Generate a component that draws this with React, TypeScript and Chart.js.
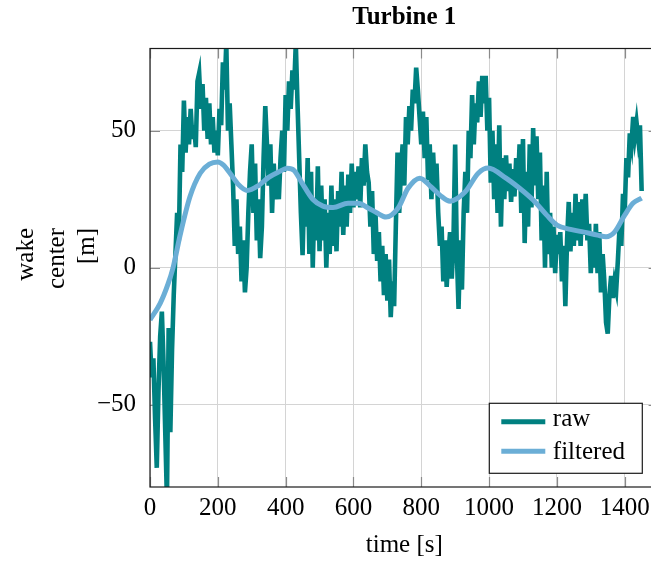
import React, { useEffect, useRef } from 'react';
import { Chart, registerables } from 'chart.js';

Chart.register(...registerables);

const FONT = "'Liberation Serif', 'Times New Roman', serif";

// Raw signal sampled every 5 s starting at t = 0 s
const rawStartTime = 0;
const rawStepSeconds = 5;
const rawValues = [
  -27, -40, -33, -55, -73, -45, -25, -16, -35, -60,
  -85, -22, -60, -30, -10, 5, 20, 10, 45, 35,
  61, 42, 55, 45, 58, 47, 52, 44, 68, 71,
  58, 67, 50, 62, 47, 60, 45, 55, 42, 50,
  41, 58, 52, 75, 65, 82, 50, 60, 45, 30,
  8, 25, 5, 15, -5, 10, -9, 0, 20, 35,
  45, 20, 38, 10, 25, 3.5, 15, 40, 59, 45,
  30, 45, 20, 38, 25, 35, 25, 40, 50, 35,
  63, 50, 68, 58, 72, 65, 82, 60, 40, 20,
  4.6, 30, 15, 40, 5, 35, 0, 25, 10, 37,
  6, 30, 10, 25, 0, 20, 5, 30, 8, 25,
  6, 28, 15, 35, 12, 30, 15, 34, 20, 38,
  22, 35, 25, 37, 22, 40, 30, 45, 35, 31,
  15, 28, 5, 20, 2.5, 13, -5, 8, -10, 5,
  -12, 3, -18, -5, -14, 15, 42, 20, 35, 45,
  30, 55, 45, 59, 50, 65, 60, 73, 65, 55,
  45, 57, 40, 55, 32, 45, 25, 42, 28, 38,
  20, 8, 15, -5, 10, -7, 5, 13, -4, 10,
  45, 5, -15, 10, -8, 20, 35, 20, 50, 40,
  63, 45, 60, 53, 68, 55, 70, 60, 70, 50,
  62, 31, 50, 25, 45, 20, 52, 15, 40, 25,
  41, 28, 38, 24, 36, 26, 40, 30, 45, 20,
  47, 9, 35, 15, 45, 22, 51, 30, 48, 25,
  42, 10, 30, 0, 35, 5, 20, 0, 15, -2,
  12, 5, 13, -5, 8, -14, 10, 24, 6, 20,
  8, 27, 10, 24, 8, 25, 12, 27, 10, 16,
  -2, 12, 0, 16, -2, 13, -9, 5, -5, -20,
  -24, -10, -3, -11, -5, -8, 3, 15, 8, 27,
  20, 40, 33, 49, 45, 55, 48, 53, 47, 52, 28,
];

const filteredTime = [
  0, 30, 53, 68, 89, 118, 148, 175, 200, 216, 236, 260, 287, 320, 350, 380,
  405, 425, 448, 480, 510, 540, 584, 614, 643, 670, 696, 732, 761, 796, 829,
  855, 885, 929, 968, 997, 1050, 1090, 1130, 1170, 1200, 1240, 1280, 1320,
  1345, 1370, 1400, 1425, 1450,
];
const filteredValues = [
  -19, -13, -6, 0, 12, 26, 34.5, 37.8, 38.6, 37.5, 34.5, 30.5, 28.2, 30, 33, 35,
  36.3, 35.5, 31, 25, 22.5, 22, 23.5, 23.5, 21.8, 20, 18.5, 21.8, 29, 32.7, 29.5,
  26.5, 24.3, 27.6, 34.5, 36.4, 32.7, 29, 24.7, 19.2, 15.6, 14, 13, 11.9,
  11.3, 13, 19.2, 23.6, 25.4,
];

const xTicks = [0, 200, 400, 600, 800, 1000, 1200, 1400];
const yTicks = [-50, 0, 50];
const titleText = 'Turbine 1';
const xLabel = 'time [s]';
const yLabelLines = ['wake', 'center', '[m]'];
const seriesNames = ['raw', 'filtered'];
const RAW_COLOR = '#008080';
const FILTERED_COLOR = '#6baed6';

const decorPlugin = {
  id: 'decor',
  beforeDatasetsDraw(chart: any) {
    const { ctx, chartArea: a, scales } = chart;
    const x = scales.x;
    const y = scales.y;
    ctx.save();
    ctx.strokeStyle = '#8a8a8a';
    ctx.lineWidth = 1.2;
    const tl = 10;
    for (const v of xTicks) {
      const px = Math.round(x.getPixelForValue(v)) + 0.5;
      ctx.beginPath();
      ctx.moveTo(px, a.top);
      ctx.lineTo(px, a.top + tl);
      ctx.moveTo(px, a.bottom);
      ctx.lineTo(px, a.bottom - tl);
      ctx.stroke();
    }
    for (const v of yTicks) {
      const py = Math.round(y.getPixelForValue(v)) + 0.5;
      ctx.beginPath();
      ctx.moveTo(a.left, py);
      ctx.lineTo(a.left + tl, py);
      ctx.moveTo(a.right, py);
      ctx.lineTo(a.right - tl, py);
      ctx.stroke();
    }
    ctx.restore();
  },
  afterDraw(chart: any) {
    const { ctx, chartArea: a } = chart;
    ctx.save();
    // frame
    ctx.strokeStyle = '#1a1a1a';
    ctx.lineWidth = 1.2;
    ctx.strokeRect(a.left, a.top, a.right - a.left, a.bottom - a.top);

    const cx = (a.left + a.right) / 2;
    ctx.fillStyle = '#000';
    // title
    ctx.font = `bold 25px ${FONT}`;
    ctx.textAlign = 'center';
    ctx.textBaseline = 'alphabetic';
    ctx.fillText(titleText, cx, 23.5);
    // x label
    ctx.font = `25px ${FONT}`;
    ctx.fillText(xLabel, cx, 552);
    // y label (three rotated lines)
    const baselines = [33, 63.5, 94];
    yLabelLines.forEach((line, i) => {
      ctx.save();
      ctx.translate(baselines[i], 228);
      ctx.rotate(-Math.PI / 2);
      ctx.textAlign = 'right';
      ctx.textBaseline = 'alphabetic';
      ctx.fillText(line, 0, 0);
      ctx.restore();
    });

    // legend
    const boxRight = a.right - 16.3;
    const boxBottom = a.bottom - 13.7;
    const boxW = 153;
    const boxH = 70;
    const bl = boxRight - boxW;
    const bt = boxBottom - boxH;
    ctx.fillStyle = '#fff';
    ctx.fillRect(bl, bt, boxW, boxH);
    ctx.strokeStyle = '#1a1a1a';
    ctx.lineWidth = 1.2;
    ctx.strokeRect(bl, bt, boxW, boxH);
    const lineYs = [bt + 18.4, bt + 48];
    const textYs = [bt + 22.7, bt + 55.5];
    const colors = [RAW_COLOR, FILTERED_COLOR];
    seriesNames.forEach((name, i) => {
      ctx.strokeStyle = colors[i];
      ctx.lineWidth = 5;
      ctx.beginPath();
      ctx.moveTo(bl + 12, lineYs[i]);
      ctx.lineTo(bl + 56, lineYs[i]);
      ctx.stroke();
      ctx.fillStyle = '#000';
      ctx.font = `25px ${FONT}`;
      ctx.textAlign = 'left';
      ctx.textBaseline = 'alphabetic';
      ctx.fillText(name, bl + 63.5, textYs[i]);
    });
    ctx.restore();
  },
};

export default function App() {
  const canvasRef = useRef<HTMLCanvasElement | null>(null);

  useEffect(() => {
    const canvas = canvasRef.current;
    if (!canvas) return;
    const rawData = rawValues.map((v, i) => ({ x: rawStartTime + i * rawStepSeconds, y: v }));
    const filteredData = filteredTime.map((t, i) => ({ x: t, y: filteredValues[i] }));
    const fmt = (v: any) => {
      const n = Number(v);
      return n < 0 ? '\u2212' + Math.abs(n) : String(n);
    };
    const chart = new Chart(canvas, {
      type: 'line',
      data: {
        datasets: [
          {
            label: seriesNames[0],
            data: rawData,
            borderColor: RAW_COLOR,
            backgroundColor: RAW_COLOR,
            borderWidth: 4.6,
            borderJoinStyle: 'miter',
            pointRadius: 0,
            tension: 0,
            clip: 0,
            order: 1,
          },
          {
            label: seriesNames[1],
            data: filteredData,
            borderColor: FILTERED_COLOR,
            backgroundColor: FILTERED_COLOR,
            borderWidth: 5,
            pointRadius: 0,
            cubicInterpolationMode: 'monotone',
            clip: 0,
            order: 0,
          },
        ],
      },
      options: {
        responsive: false,
        animation: false,
        devicePixelRatio: 1,
        events: [],
        layout: { padding: { top: 48.5, right: 21.4, left: 0, bottom: 0 } },
        plugins: {
          legend: { display: false },
          title: { display: false },
          tooltip: { enabled: false },
        },
        scales: {
          x: {
            type: 'linear',
            min: 0,
            max: 1500,
            afterBuildTicks: (s: any) => {
              s.ticks = xTicks.map((v) => ({ value: v }));
            },
            afterFit: (s: any) => {
              s.height = 77;
            },
            grid: { color: '#d4d4d4', lineWidth: 1, drawTicks: false },
            border: { display: false },
            ticks: {
              font: { family: FONT, size: 25 },
              color: '#000',
              padding: 6,
              maxRotation: 0,
              autoSkip: false,
              callback: fmt,
            },
          },
          y: {
            type: 'linear',
            min: -80,
            max: 80,
            afterBuildTicks: (s: any) => {
              s.ticks = yTicks.map((v) => ({ value: v }));
            },
            afterFit: (s: any) => {
              s.width = 150;
            },
            grid: { color: '#d4d4d4', lineWidth: 1, drawTicks: false },
            border: { display: false },
            ticks: {
              font: { family: FONT, size: 25 },
              color: '#000',
              padding: 14,
              callback: fmt,
            },
          },
        },
      },
      plugins: [decorPlugin],
    } as any);
    return () => chart.destroy();
  }, []);

  return (
    <div
      style={{
        position: 'fixed',
        left: 0,
        top: 0,
        width: 651,
        height: 564,
        overflow: 'hidden',
        background: '#fff',
      }}
    >
      <canvas ref={canvasRef} width={680} height={564} style={{ display: 'block', width: 680, height: 564 }} />
    </div>
  );
}
